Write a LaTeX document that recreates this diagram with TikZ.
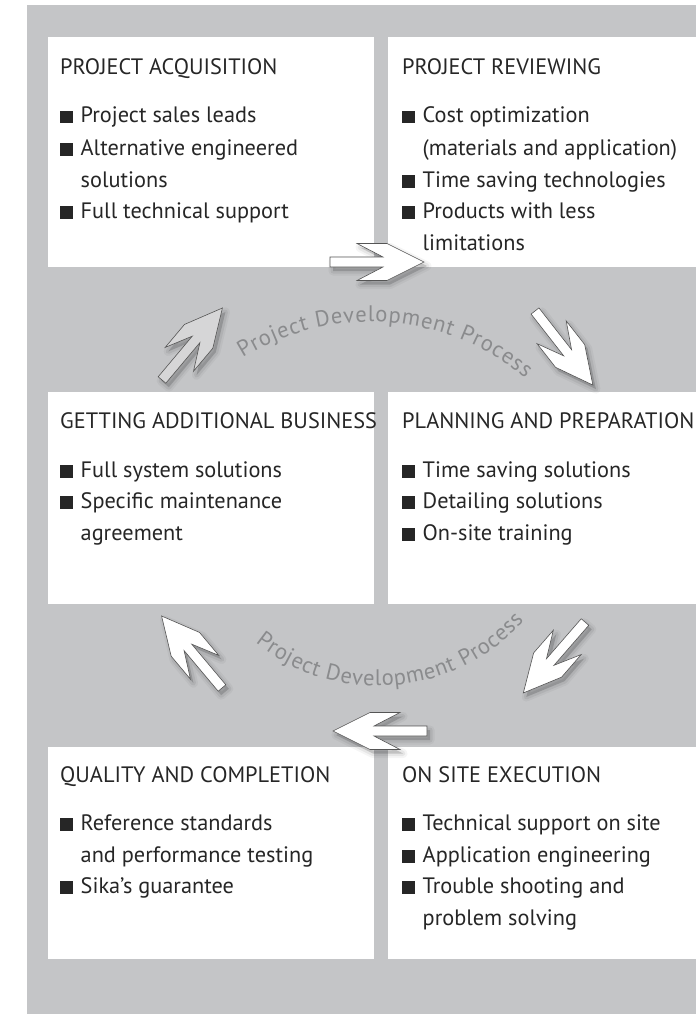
\documentclass[tikz,border=0pt]{standalone}
\usepackage{fontspec}
\setmainfont{PT Sans}
\usetikzlibrary{decorations.text}
\definecolor{bg}{RGB}{196,197,199}
\definecolor{txt}{RGB}{38,38,38}
\definecolor{arctxt}{RGB}{138,139,141}
\definecolor{arrowgray}{RGB}{214,214,215}
\definecolor{edgecol}{RGB}{85,85,85}
\newcommand\arrowshape{(0,-5) -- (53,-5) -- (27,-18.5) -- (57,-18.5) -- (94,0) -- (57,18.5) -- (27,18.5) -- (53,5) -- (0,5) -- cycle}
\newcommand\blockarrow[3]{%
  \begin{scope}[shift={(#1)}, xshift=3pt, yshift=-4pt, rotate=-#2]
    \draw[line width=9pt, black, opacity=0.04, line join=round] \arrowshape;
    \draw[line width=5pt, black, opacity=0.06, line join=round] \arrowshape;
    \fill[black, opacity=0.16] \arrowshape;
  \end{scope}
  \begin{scope}[shift={(#1)}, rotate=-#2]
    \draw[edgecol, line width=0.6pt, fill=#3, line join=miter] \arrowshape;
  \end{scope}}
\newcommand\bsq{\makebox[20.5pt][l]{\rule[-0.5pt]{12.5pt}{12.5pt}}}
\begin{document}
\begin{tikzpicture}[x=1pt, y=-1pt,
  box/.style={fill=white, draw=none, inner sep=0pt, anchor=north west},
  title/.style={anchor=base west, inner sep=0pt, font=\fontsize{22.3}{22}\selectfont, text=txt},
  item/.style={anchor=base west, inner sep=0pt, font=\fontsize{22.3}{22}\selectfont, text=txt},
  arcpath/.style={decorate, decoration={text along path, text align={fit to path},
     text={|\fontsize{22.5}{22}\selectfont\color{arctxt}|Project Development Process}}}]
\useasboundingbox (0,0) rectangle (696,1014);
\clip (0,0) rectangle (696,1014);
\fill[bg] (27,5) rectangle (696,1014);
% boxes
\node[box, minimum width=326pt, minimum height=230pt] (acq) at (48,37) {};
\node[box, minimum width=308pt, minimum height=230pt] (rev) at (388,37) {};
\node[box, minimum width=326pt, minimum height=212pt] (add) at (48,392) {};
\node[box, minimum width=308pt, minimum height=212pt] (plan) at (388,392) {};
\node[box, minimum width=326pt, minimum height=212pt] (qual) at (48,747) {};
\node[box, minimum width=308pt, minimum height=212pt] (exec) at (388,747) {};
% box 1
\node[title] (acqT) at (60,75) {PROJECT ACQUISITION};
\node[item] (acq1) at (60,123) {\bsq Project sales leads};
\node[item] (acq2) at (60,155) {\bsq Alternative engineered};
\node[item] (acq3) at (80.5,187) {solutions};
\node[item] (acq4) at (60,218) {\bsq Full technical support};
% box 2
\node[title] (revT) at (402,75) {PROJECT REVIEWING};
\node[item] (rev1) at (402,123) {\bsq Cost optimization};
\node[item] (rev2) at (422.5,155) {(materials and application)};
\node[item] (rev3) at (402,187) {\bsq Time saving technologies};
\node[item] (rev4) at (402,218) {\bsq Products with less};
\node[item] (rev5) at (422.5,250) {limitations};
% box 3
\node[title] (addT) at (60,428) {GETTING ADDITIONAL BUSINESS};
\node[item] (add1) at (60,477) {\bsq Full system solutions};
\node[item] (add2) at (60,508) {\bsq Specific maintenance};
\node[item] (add3) at (80.5,540) {agreement};
% box 4
\node[title] (planT) at (402,428) {PLANNING AND PREPARATION};
\node[item] (plan1) at (402,477) {\bsq Time saving solutions};
\node[item] (plan2) at (402,508) {\bsq Detailing solutions};
\node[item] (plan3) at (402,540) {\bsq On-site training};
% box 5
\node[title] (qualT) at (60,782) {QUALITY AND COMPLETION};
\node[item] (qual1) at (60,830) {\bsq Reference standards};
\node[item] (qual2) at (80.5,862) {and performance testing};
\node[item] (qual3) at (60,893) {\bsq Sika’s guarantee};
% box 6
\node[title] (execT) at (402,782) {ON SITE EXECUTION};
\node[item] (exec1) at (402,830) {\bsq Technical support on site};
\node[item] (exec2) at (402,862) {\bsq Application engineering};
\node[item] (exec3) at (402,893) {\bsq Trouble shooting and};
\node[item] (exec4) at (422.5,925) {problem solving};
% arc texts
\path[arcpath] (242.7,358) arc[start angle=-121.6, end angle=-50.3, radius=243];
\path[arcpath] (255.4,642.9) arc[start angle=128.7, end angle=41.9, radius=196];
% block arrows
\coordinate (t1) at (330,262);
\coordinate (t2) at (162,380);
\coordinate (t3) at (535,311);
\coordinate (t4) at (585,622);
\coordinate (t5) at (427,731);
\coordinate (t6) at (222,688);
\blockarrow{t1}{0}{white}
\blockarrow{t2}{-50}{arrowgray}
\blockarrow{t3}{52}{white}
\blockarrow{t4}{131}{white}
\blockarrow{t5}{180}{white}
\blockarrow{t6}{-130}{white}
\end{tikzpicture}
\end{document}
